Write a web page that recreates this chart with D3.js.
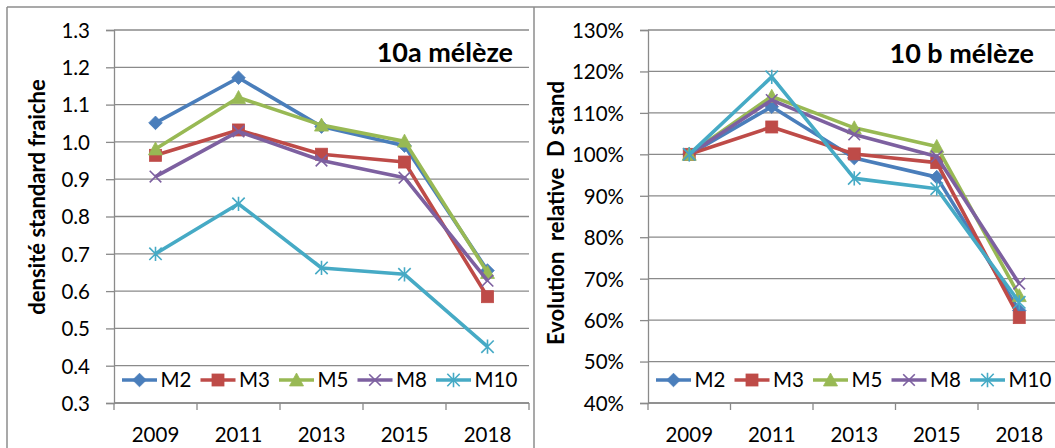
<!DOCTYPE html>
<html>
<head>
<meta charset="utf-8">
<script src="https://cdn.jsdelivr.net/npm/d3@7"></script>
<style>
  html, body { margin: 0; padding: 0; background: #ffffff; }
  svg { display: block; }
  text { font-family: Lato, "Open Sans", sans-serif; fill: #000; }
</style>
</head>
<body>
<svg id="chart" width="1055" height="448"></svg>
<script>
// Categories and series
const years = ["2009", "2011", "2013", "2015", "2018"];
const seriesNames = ["M2", "M3", "M5", "M8", "M10"];

// 10a : densité standard fraiche
const densiteM2  = [1.051, 1.172, 1.041, 0.990, 0.655];
const densiteM3  = [0.964, 1.032, 0.967, 0.946, 0.585];
const densiteM5  = [0.981, 1.119, 1.045, 1.002, 0.650];
const densiteM8  = [0.907, 1.028, 0.950, 0.904, 0.628];
const densiteM10 = [0.700, 0.834, 0.662, 0.645, 0.451];

// 10b : évolution relative (base 2009 = 100 %)
const evolM2  = [1.000, 1.115, 0.991, 0.945, 0.623];
const evolM3  = [1.000, 1.066, 1.001, 0.980, 0.606];
const evolM5  = [1.000, 1.140, 1.064, 1.019, 0.659];
const evolM8  = [1.000, 1.131, 1.048, 0.995, 0.688];
const evolM10 = [1.000, 1.187, 0.942, 0.917, 0.643];

// Axis ticks
const densiteTicks = [0.3, 0.4, 0.5, 0.6, 0.7, 0.8, 0.9, 1.0, 1.1, 1.2, 1.3];
const evolTicks = [0.4, 0.5, 0.6, 0.7, 0.8, 0.9, 1.0, 1.1, 1.2, 1.3];

const colors = {
  M2: "#4a7ebb",
  M3: "#be4b48",
  M5: "#98b954",
  M8: "#7d60a0",
  M10: "#46aac5"
};
const markerTypes = { M2: "diamond", M3: "square", M5: "triangle", M8: "x", M10: "star" };

const svg = d3.select("#chart");
const gridColor = "#8a8a8a";
const tickFont = 20.5;

// Outer frame lines
svg.append("line").attr("x1", 7).attr("x2", 1055).attr("y1", 7).attr("y2", 7)
  .attr("stroke", "#8c8c8c").attr("stroke-width", 1.5);
svg.append("line").attr("x1", 7).attr("x2", 7).attr("y1", 7).attr("y2", 448)
  .attr("stroke", "#8c8c8c").attr("stroke-width", 1.5);
svg.append("line").attr("x1", 534).attr("x2", 534).attr("y1", 7).attr("y2", 448)
  .attr("stroke", "#8c8c8c").attr("stroke-width", 1.5);

function drawMarker(g, type, cx, cy, color) {
  if (type === "diamond") {
    const r = 6.8;
    g.append("path")
      .attr("d", `M${cx},${cy - r}L${cx + r},${cy}L${cx},${cy + r}L${cx - r},${cy}Z`)
      .attr("fill", color).attr("stroke", color).attr("stroke-width", 0.8);
  } else if (type === "square") {
    const s = 12;
    g.append("rect").attr("x", cx - s / 2).attr("y", cy - s / 2)
      .attr("width", s).attr("height", s)
      .attr("fill", color).attr("stroke", color).attr("stroke-width", 0.8);
  } else if (type === "triangle") {
    const r = 7;
    g.append("path")
      .attr("d", `M${cx},${cy - r}L${cx + r},${cy + r * 0.85}L${cx - r},${cy + r * 0.85}Z`)
      .attr("fill", color).attr("stroke", color).attr("stroke-width", 0.8);
  } else if (type === "x") {
    const r = 5.8;
    g.append("path")
      .attr("d", `M${cx - r},${cy - r}L${cx + r},${cy + r}M${cx - r},${cy + r}L${cx + r},${cy - r}`)
      .attr("stroke", color).attr("stroke-width", 1.6).attr("fill", "none");
  } else if (type === "star") {
    const r = 6.2;
    g.append("path")
      .attr("d", `M${cx - r},${cy - r}L${cx + r},${cy + r}M${cx - r},${cy + r}L${cx + r},${cy - r}M${cx},${cy - r * 1.15}L${cx},${cy + r * 1.15}`)
      .attr("stroke", color).attr("stroke-width", 1.6).attr("fill", "none");
  }
}

function drawPanel(opts) {
  const g = svg.append("g");
  const x = d3.scaleBand().domain(years).range([opts.x0, opts.x1]).padding(0);
  const y = d3.scaleLinear().domain(opts.domain).range([403, 30]);
  const cx = d => x(d) + x.bandwidth() / 2;

  // horizontal gridlines
  g.append("g").selectAll("line").data(opts.ticks).join("line")
    .attr("x1", opts.x0).attr("x2", opts.gridEnd)
    .attr("y1", d => y(d)).attr("y2", d => y(d))
    .attr("stroke", gridColor).attr("stroke-width", 1.3);

  // y axis
  const yAxis = d3.axisLeft(y).tickValues(opts.ticks).tickFormat(opts.format)
    .tickSize(8).tickPadding(16);
  const ya = g.append("g").attr("transform", `translate(${opts.x0},0)`).call(yAxis);
  ya.select(".domain").attr("stroke", gridColor).attr("stroke-width", 1.3);
  ya.selectAll(".tick line").attr("stroke", gridColor).attr("stroke-width", 1.3);
  ya.selectAll(".tick text").attr("font-size", tickFont).attr("font-family", "Lato")
    .attr("fill", "#000").attr("dy", "0.36em");

  // x axis: labels at category centres, tick marks on category boundaries
  const xAxis = d3.axisBottom(x).tickSize(0).tickPadding(0);
  const xa = g.append("g").attr("transform", "translate(0,403)").call(xAxis);
  xa.select(".domain").remove();
  xa.selectAll(".tick text").attr("font-size", tickFont).attr("font-family", "Lato")
    .attr("fill", "#000").attr("y", 38.5).attr("dy", 0);
  g.append("line").attr("x1", opts.x0).attr("x2", opts.gridEnd)
    .attr("y1", 403).attr("y2", 403).attr("stroke", gridColor).attr("stroke-width", 1.3);
  const bounds = years.map(d => x(d)).concat([x.range()[1]]);
  g.append("g").selectAll("line").data(bounds).join("line")
    .attr("x1", d => d).attr("x2", d => d).attr("y1", 403).attr("y2", 410)
    .attr("stroke", gridColor).attr("stroke-width", 1.3);

  // series lines and markers
  const line = d3.line().x((d, i) => cx(years[i])).y(d => y(d));
  opts.series.forEach((vals, si) => {
    const name = seriesNames[si];
    const sg = g.append("g");
    sg.append("path").datum(vals).attr("d", line)
      .attr("fill", "none").attr("stroke", colors[name])
      .attr("stroke-width", 3.6).attr("stroke-linejoin", "round");
    vals.forEach((v, i) => drawMarker(sg, markerTypes[name], cx(years[i]), y(v), colors[name]));
  });

  // panel title
  g.append("text").attr("x", opts.titleX).attr("y", opts.titleY)
    .attr("text-anchor", "end").attr("font-weight", "bold").attr("font-size", 27)
    .text(opts.title);

  // y axis title
  g.append("text")
    .attr("transform", `translate(${opts.yTitleX},${opts.yTitleY}) rotate(-90)`)
    .attr("text-anchor", "middle").attr("font-weight", "bold").attr("font-size", 22)
    .style("white-space", "pre")
    .text(opts.yTitle);

  // legend
  const lg = g.append("g");
  seriesNames.forEach((name, i) => {
    const lx = opts.legendX + i * 78.5;
    const ly = 380;
    lg.append("line").attr("x1", lx).attr("x2", lx + 35).attr("y1", ly).attr("y2", ly)
      .attr("stroke", colors[name]).attr("stroke-width", 3.6);
    drawMarker(lg, markerTypes[name], lx + 17.5, ly, colors[name]);
    lg.append("text").attr("x", lx + 38.5).attr("y", ly).attr("dy", "0.36em")
      .attr("font-size", tickFont).text(name);
  });
}

drawPanel({
  x0: 114, x1: 529, gridEnd: 529,
  domain: [0.3, 1.3], ticks: densiteTicks, format: d3.format(".1f"),
  series: [densiteM2, densiteM3, densiteM5, densiteM8, densiteM10],
  title: "10a mélèze", titleX: 513, titleY: 62,
  yTitle: "densité standard fraiche", yTitleX: 45, yTitleY: 197,
  legendX: 122
});

drawPanel({
  x0: 648, x1: 1060.5, gridEnd: 1055,
  domain: [0.4, 1.3], ticks: evolTicks, format: d3.format(".0%"),
  series: [evolM2, evolM3, evolM5, evolM8, evolM10],
  title: "10 b mélèze", titleX: 1034, titleY: 63,
  yTitle: "Evolution  relative  D stand", yTitleX: 564, yTitleY: 213,
  legendX: 656
});
</script>
</body>
</html>
